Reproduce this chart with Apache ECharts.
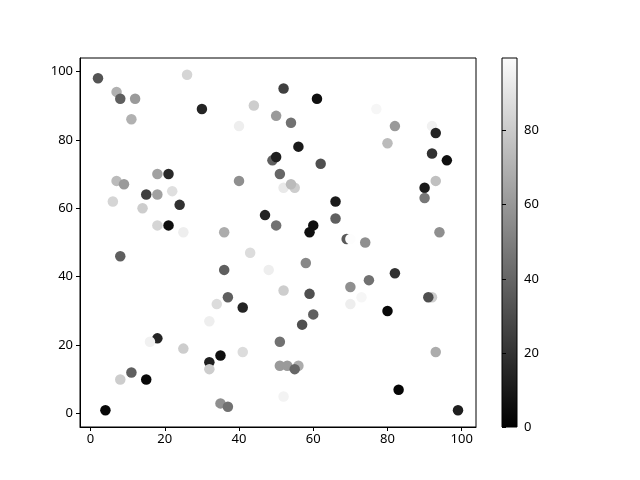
<!DOCTYPE html>
<html><head><meta charset="utf-8">
<script src="https://cdn.jsdelivr.net/npm/echarts@6/dist/echarts.min.js"></script>
<style>html,body{margin:0;padding:0;background:#fff}#c{width:640px;height:480px}</style>
</head><body><div id="c"></div>
<script>
var xs = [2,7,8,12,11,26,30,44,40,50,49,50,18,21,51,52,61,77,54,82,92,93,56,80,92,96,62,7,9,40,15,18,22,6,14,24,18,21,25,36,47,50,8,43,36,48,37,52,55,54,66,66,93,90,90,60,59,69,70,74,94,58,52,59,70,75,82,92,91,73,70,80,60,57,51,51,53,56,55,52,93,83,99,34,41,32,18,16,25,41,35,32,32,11,8,15,4,35,37];
var ys = [98,94,92,92,86,99,89,90,84,87,74,75,70,70,70,95,92,89,85,84,84,82,78,79,76,74,73,68,67,68,64,64,65,62,60,61,55,55,53,53,58,55,46,47,42,42,34,66,66,67,62,57,68,66,63,55,53,51,51,50,53,44,36,35,37,39,41,34,34,34,32,30,29,26,21,14,14,14,13,5,18,7,1,32,31,27,22,21,19,18,17,15,13,12,10,10,1,3,2];
var cs = [33,69,37,60,69,83,14,80,93,60,37,12,63,16,40,25,6,96,44,60,94,14,10,73,19,6,31,73,60,56,25,63,87,83,80,19,83,6,93,67,14,44,37,86,37,93,37,91,80,73,10,37,75,10,47,6,6,35,99,56,56,53,80,31,56,44,19,80,31,96,93,3,37,31,44,60,60,67,40,95,67,2,12,86,14,93,14,94,80,86,6,12,80,37,80,3,3,56,44];
</script>
<script>
var pts = [];
for (var i = 0; i < xs.length; i++) pts.push([xs[i], ys[i], cs[i]]);
var xTicks = [0,20,40,60,80,100];
var yTicks = [0,20,40,60,80,100];
var cTicks = [0,20,40,60,80];
var font = {color:'#000', fontFamily:'Noto Sans', fontSize:13};
var chart = echarts.init(document.getElementById('c'), null, {renderer:'canvas'});
chart.setOption({
  backgroundColor:'#fff',
  animation:false,
  grid:[
    {left:80, top:58, width:396, height:369, show:true, borderColor:'#000', borderWidth:1, backgroundColor:'transparent'},
    {left:502, top:58, width:15, height:369, show:true, borderColor:'#000', borderWidth:1,
     backgroundColor:{type:'linear', x:0, y:0, x2:0, y2:1, colorStops:[{offset:0,color:'#fcfcfc'},{offset:1,color:'#000'}]}}
  ],
  xAxis:[
    {gridIndex:0, type:'value', min:-2.85, max:103.85, splitLine:{show:false},
     axisLine:{show:true, onZero:false, lineStyle:{color:'#000'}},
     axisTick:{show:true, length:4, customValues:xTicks, lineStyle:{color:'#000'}},
     axisLabel:Object.assign({margin:6, customValues:xTicks}, font)},
    {gridIndex:1, type:'value', min:0, max:1, show:false}
  ],
  yAxis:[
    {gridIndex:0, type:'value', min:-3.9, max:103.9, splitLine:{show:false},
     axisLine:{show:true, onZero:false, lineStyle:{color:'#000'}},
     axisTick:{show:true, length:4, customValues:yTicks, lineStyle:{color:'#000'}},
     axisLabel:Object.assign({margin:7, customValues:yTicks}, font)},
    {gridIndex:1, type:'value', min:0, max:99.6, position:'right', splitLine:{show:false},
     axisLine:{show:false},
     axisTick:{show:true, length:4, customValues:cTicks, lineStyle:{color:'#000'}},
     axisLabel:Object.assign({margin:7, customValues:cTicks}, font)}
  ],
  visualMap:{show:false, type:'continuous', dimension:2, min:0, max:99.6, seriesIndex:0,
    inRange:{color:['#000000','#ffffff']}},
  series:[{type:'scatter', xAxisIndex:0, yAxisIndex:0, data:pts, symbolSize:10.5,
    itemStyle:{opacity:1}, emphasis:{disabled:true}}]
});
</script></body></html>
